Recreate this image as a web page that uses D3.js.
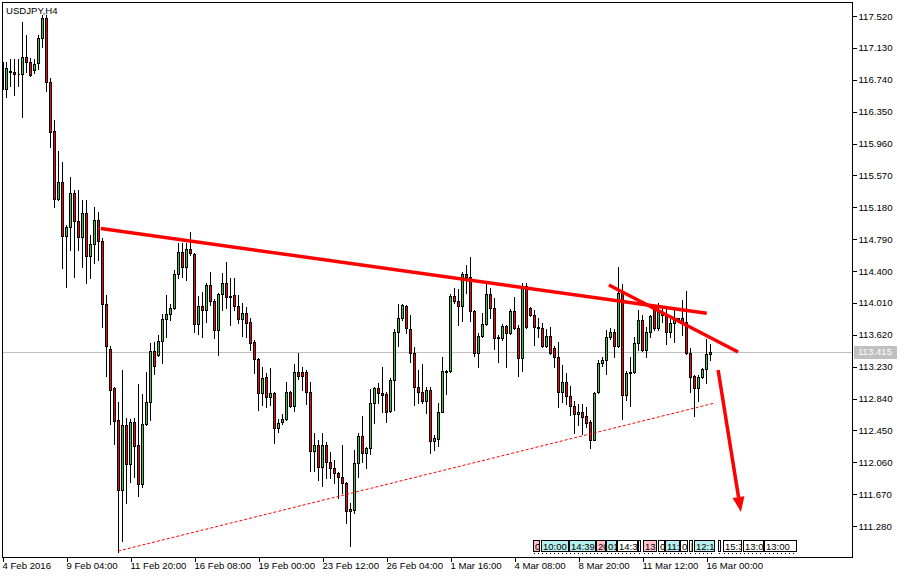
<!DOCTYPE html>
<html><head><meta charset="utf-8">
<script src="https://cdn.jsdelivr.net/npm/d3@7/dist/d3.min.js"></script>
<style>
body{margin:0;background:#fff;}
svg{display:block;font-family:"Liberation Sans",Arial,sans-serif;}
</style></head><body>
<svg id="c" width="905" height="578"></svg>
<script>
// ---------------- DATA ----------------
const symbolLabel = "USDJPY,H4";
const openP = [116.627,116.627,116.835,116.835,116.811,116.811,117.019,116.957,116.860,116.945,
117.251,117.496,116.713,116.113,115.281,115.489,114.828,114.939,115.355,115.012,
114.816,115.110,114.584,114.731,115.024,114.767,113.996,113.446,112.969,112.577,
111.721,112.516,112.039,112.553,112.271,111.794,112.528,112.797,113.421,113.372,
113.544,113.813,113.874,113.948,114.363,114.633,114.449,114.669,114.608,113.752,
113.972,113.923,114.229,114.033,113.678,114.119,114.253,114.094,114.107,113.972,
113.813,113.886,113.776,113.532,113.323,112.907,113.103,112.858,112.907,112.479,
112.553,112.589,112.920,112.748,113.164,113.164,113.164,112.920,112.198,112.271,
112.002,112.271,112.063,111.990,111.929,111.880,111.806,111.464,111.476,112.051,
112.381,112.173,112.235,112.785,112.969,112.907,112.895,112.687,113.067,113.654,
113.825,113.972,113.691,113.397,112.981,112.920,112.810,112.944,112.320,112.345,
112.675,113.164,113.177,114.094,114.033,113.972,114.363,114.327,113.911,113.397,
113.605,113.752,114.119,113.948,113.593,113.580,113.727,113.642,113.911,113.703,
113.336,114.217,113.948,113.862,113.715,113.703,113.483,113.605,113.458,113.348,
112.920,113.042,112.871,112.748,112.651,112.675,112.626,112.553,112.332,112.920,
113.275,113.311,113.593,113.654,113.483,114.131,112.883,113.152,113.164,113.519,
113.801,113.434,113.654,113.948,113.703,113.899,113.862,113.654,113.764,113.801,
113.825,113.776,113.397,113.116,112.969,113.103,113.201,113.385];
const highP = [117.006,116.957,116.994,116.994,116.994,117.447,117.288,117.006,116.994,117.288,
117.532,117.532,116.762,116.248,115.868,115.734,114.963,115.550,115.391,115.391,
115.269,115.269,114.841,115.183,115.122,114.804,114.107,113.483,112.981,112.797,
113.189,112.602,112.589,112.602,113.018,112.895,113.164,113.519,113.532,113.617,
113.874,114.107,113.996,114.412,114.743,114.743,114.743,114.877,114.620,114.094,
114.143,114.253,114.388,114.058,114.131,114.376,114.510,114.315,114.315,114.107,
114.009,113.960,113.825,113.556,113.336,113.226,113.152,113.213,112.920,112.589,
112.651,113.042,112.932,113.262,113.397,113.226,113.189,113.042,112.418,112.332,
112.418,112.308,112.186,112.088,111.941,112.271,111.819,111.562,112.210,112.418,
112.626,112.247,112.956,112.981,113.030,113.226,112.920,113.091,113.691,113.996,
113.996,113.984,113.862,113.470,113.189,113.262,112.981,112.981,112.393,112.785,
113.348,113.185,114.119,114.192,114.180,114.388,114.474,114.572,113.920,113.642,
113.886,114.253,114.192,114.070,113.620,113.752,113.739,113.935,114.082,113.739,
114.253,114.253,113.960,113.923,113.825,113.764,113.691,113.715,113.483,113.532,
113.250,113.152,112.993,112.810,112.773,112.773,112.736,112.577,112.925,113.311,
113.348,113.678,113.703,113.691,114.449,114.241,113.177,113.348,113.593,113.923,
113.862,113.715,113.862,113.984,114.009,113.960,113.960,113.813,113.923,113.830,
114.045,114.155,113.458,113.128,113.128,113.213,113.568,113.507];
const lowP = [116.529,116.529,116.664,116.554,116.664,116.284,116.835,116.786,116.823,116.872,
117.141,116.603,115.917,115.183,115.269,114.437,114.204,114.657,114.327,114.657,
114.449,114.253,114.315,114.498,114.535,113.715,113.116,112.528,112.284,110.962,
111.097,111.562,111.819,111.880,111.647,111.758,112.516,112.577,113.140,113.360,
113.275,113.593,113.801,113.940,114.315,114.327,114.290,114.600,113.654,113.629,
113.593,113.776,113.984,113.580,113.372,113.923,113.948,113.739,113.923,113.764,
113.605,113.593,113.434,113.152,112.699,112.761,112.736,112.761,112.296,112.430,
112.528,112.577,112.740,112.687,113.079,112.944,112.773,111.953,111.953,111.843,
111.770,111.867,111.867,111.806,111.623,111.684,111.317,111.036,111.439,111.880,
112.063,111.990,112.161,112.540,112.785,112.675,112.553,112.680,112.699,113.483,
113.801,113.642,113.287,112.761,112.785,112.785,112.663,112.173,112.210,112.259,
112.670,112.895,113.170,114.009,113.739,113.788,114.131,113.788,113.360,113.226,
113.593,113.739,113.825,113.446,113.287,113.556,113.226,113.629,113.691,113.116,
113.177,113.703,113.850,113.495,113.593,113.470,113.470,113.385,113.226,112.736,
112.797,112.773,112.638,112.418,112.516,112.406,112.491,112.235,112.330,112.907,
113.238,113.140,113.568,113.348,113.470,112.589,112.822,112.748,113.152,113.434,
113.421,113.348,113.593,113.678,113.678,113.776,113.507,113.593,113.532,113.776,
113.617,113.390,112.920,112.626,112.810,113.091,113.030,113.311];
const closeP = [116.957,116.884,116.847,116.811,116.815,117.019,116.957,116.798,116.933,117.251,
117.496,116.713,116.101,115.281,115.489,114.828,114.939,115.355,115.012,114.816,
115.110,114.584,114.731,115.024,114.767,113.996,113.483,112.944,112.565,111.721,
112.516,112.039,112.553,112.259,111.794,112.528,112.797,113.421,113.238,113.544,
113.813,113.874,113.948,114.363,114.633,114.449,114.669,114.615,113.752,113.972,
113.923,114.229,114.033,113.678,114.119,114.253,114.082,114.082,113.972,113.813,
113.886,113.764,113.519,113.323,112.907,113.091,112.858,112.907,112.479,112.540,
112.589,112.920,112.748,113.164,113.116,113.116,112.920,112.198,112.271,112.002,
112.271,112.063,111.990,111.929,111.880,111.806,111.464,111.488,112.051,112.381,
112.173,112.235,112.785,112.969,112.907,112.883,112.675,113.067,113.654,113.825,
113.984,113.703,113.397,112.981,112.920,112.810,112.944,112.320,112.357,112.675,
113.177,113.175,114.094,114.033,113.972,114.363,114.327,113.911,113.397,113.605,
113.752,114.119,113.948,113.580,113.580,113.727,113.642,113.911,113.703,113.336,
114.217,113.715,113.862,113.715,113.703,113.483,113.605,113.397,113.348,112.920,
113.042,112.871,112.748,112.651,112.675,112.614,112.540,112.332,112.908,113.275,
113.311,113.593,113.654,113.483,114.131,112.883,113.152,113.164,113.519,113.801,
113.434,113.654,113.850,113.703,113.899,113.862,113.654,113.764,113.801,113.825,
113.776,113.397,113.103,112.969,113.103,113.201,113.385,113.415];

const timeTickBars = [0,16,32,48,64,80,96,112,128,144,160,176];
const timeTickLabels = ["4 Feb 2016","9 Feb 04:00","11 Feb 20:00","16 Feb 08:00","19 Feb 00:00",
  "23 Feb 12:00","26 Feb 04:00","1 Mar 16:00","4 Mar 08:00","8 Mar 20:00","11 Mar 12:00","16 Mar 00:00"];
const priceTicks = [117.520,117.130,116.740,116.350,115.960,115.570,115.180,114.790,114.400,
  114.010,113.620,113.230,112.840,112.450,112.060,111.670,111.280];
const bidPrice = 113.415;

// drawn objects: [bar position, price]
const trendTop = [[24.6,114.920],[176.05,113.883]];
const trendSteep = [[151.6,114.229],[183.9,113.409]];
const trendSupport = [[28.9,110.974],[178.1,112.785]];
const arrowDown = [[178.9,113.189],[184.6,111.452]];

// calendar event markers (bar span, text, kind)
const eventText = ["0","10:00","14:39","20","01","14:3","[","13:","0","11:","0","[","12:1:","[","15:3","13:0","13:00"];
const eventKind = ["p","c","c","p","c","w","w","p","w","c","w","w","c","w","w","w","w"];
const eventFrom = [132.55,134.6,141.6,148.4,150.9,153.6,158.9,160.1,163.9,165.6,169.4,171.6,172.9,178.9,180.1,185.1,190.4];
const eventTo   = [134.4,141.6,148.4,150.9,153.6,158.9,159.6,163.6,165.6,169.4,171.4,172.6,178.1,179.6,184.9,190.4,198.6];

// ---------------- DRAW ----------------
const svg = d3.select("#c");
const GREEN = "#32cd32", RED = "#ff0000";
const x = d3.scaleLinear().domain([0,212.5]).range([2.5,852.5]);
const y = d3.scaleLinear().domain([117.52,111.28]).range([16,526]);

svg.append("rect").attr("width",905).attr("height",578).attr("fill","#fff");
svg.append("defs").append("clipPath").attr("id","plotClip")
  .append("rect").attr("x",3).attr("y",3).attr("width",849).attr("height",554);

const plotG = svg.append("g").attr("clip-path","url(#plotClip)");

// bid line
plotG.append("line").attr("x1",2).attr("x2",852)
  .attr("y1",Math.round(y(bidPrice))+0.5).attr("y2",Math.round(y(bidPrice))+0.5)
  .attr("stroke","#c0c0c0").attr("shape-rendering","crispEdges");

// candles
const idx = d3.range(openP.length);
const cg = plotG.append("g").attr("shape-rendering","crispEdges");
cg.selectAll("line").data(idx).join("line")
  .attr("x1",i=>x(i)).attr("x2",i=>x(i))
  .attr("y1",i=>Math.round(y(highP[i])))
  .attr("y2",i=>Math.round(y(lowP[i]))+1)
  .attr("stroke","#000");
cg.selectAll("path").data(idx).join("path")
  .attr("d",i=>{
    const xc = x(i);
    const t = Math.round(y(Math.max(openP[i],closeP[i])))+0.5;
    const b = Math.round(y(Math.min(openP[i],closeP[i])))+0.5;
    return `M${xc-1},${t}H${xc+1}V${b}H${xc-1}Z`;
  })
  .attr("fill",i=>closeP[i]>=openP[i]?GREEN:RED)
  .attr("stroke","#000");

// trend lines
const ptX = p=>x(p[0]), ptY = p=>y(p[1]);
const lineGen = d3.line().x(ptX).y(ptY);
plotG.append("path").attr("d",lineGen(trendTop)).attr("stroke",RED).attr("stroke-width",3.5).attr("fill","none");
plotG.append("path").attr("d",lineGen(trendSteep)).attr("stroke",RED).attr("stroke-width",3.5).attr("fill","none");
plotG.append("path").attr("d",lineGen(trendSupport)).attr("stroke",RED).attr("stroke-width",1)
  .attr("stroke-dasharray","3,2").attr("fill","none");

// arrow
{
  const x0=ptX(arrowDown[0]), y0=ptY(arrowDown[0]), x1=ptX(arrowDown[1]), y1=ptY(arrowDown[1]);
  const dx=x1-x0, dy=y1-y0, L=Math.hypot(dx,dy), ux=dx/L, uy=dy/L;
  const hl=15, hw=6;
  const bx=x1-ux*hl, by=y1-uy*hl;
  plotG.append("path").attr("d",`M${x0},${y0}L${bx},${by}`).attr("stroke",RED).attr("stroke-width",3.5).attr("fill","none");
  plotG.append("path").attr("d",`M${bx+uy*hw},${by-ux*hw}L${x1},${y1}L${bx-uy*hw},${by+ux*hw}Z`).attr("fill",RED);
}

// event markers
const kindFill = {p:"#ffc0cb", c:"#b4eeee", w:"#ffffff"};
const evG = plotG.append("g");
eventText.forEach((t,i)=>{
  const xa = Math.round(x(eventFrom[i])), xb = Math.round(x(eventTo[i]));
  const box = evG.append("svg").attr("x",xa).attr("y",540).attr("width",Math.max(1,xb-xa)).attr("height",12);
  box.append("rect").attr("x",0.5).attr("y",0.5).attr("width",Math.max(0,xb-xa-1)).attr("height",11)
    .attr("fill",kindFill[eventKind[i]]).attr("stroke","#000").attr("shape-rendering","crispEdges");
  box.append("text").attr("x",2).attr("y",9.5).attr("font-size","9.5px").attr("fill","#000").text(t);
  evG.append("line").attr("x1",xa+1).attr("x2",xb-1).attr("y1",553.5).attr("y2",553.5)
    .attr("stroke","#000").attr("stroke-dasharray","1,3").attr("shape-rendering","crispEdges");
});

// symbol label
svg.append("text").attr("x",6).attr("y",14).attr("font-size","9.6px").attr("fill","#000").text(symbolLabel);

// frame
svg.append("rect").attr("x",2.5).attr("y",2.5).attr("width",850).attr("height",555)
  .attr("fill","none").attr("stroke","#000").attr("shape-rendering","crispEdges");

// right price axis
const yAxis = d3.axisRight(y).tickValues(priceTicks).tickSize(4).tickPadding(2).tickFormat(d3.format(".3f"));
const ya = svg.append("g").attr("transform","translate(852.5,0)").call(yAxis);
ya.select(".domain").remove();
ya.selectAll("line").attr("stroke","#000").attr("shape-rendering","crispEdges");
ya.selectAll("text").attr("font-size","9.6px").attr("fill","#000").attr("font-family","Liberation Sans, Arial, sans-serif");

// bid label
{
  const yb = y(bidPrice);
  svg.append("rect").attr("x",854).attr("y",Math.round(yb)-6).attr("width",43).attr("height",13).attr("fill","#c0c0c0");
  svg.append("text").attr("x",858).attr("y",yb).attr("dy","0.35em").attr("font-size","9.6px").attr("fill","#fff")
    .text(d3.format(".3f")(bidPrice));
}

// bottom time axis
const xAxis = d3.axisBottom(x).tickValues(timeTickBars).tickSize(4).tickFormat((d,i)=>timeTickLabels[i]);
const xa = svg.append("g").attr("transform","translate(0,557.5)").call(xAxis);
xa.select(".domain").remove();
xa.selectAll("line").attr("stroke","#000").attr("shape-rendering","crispEdges");
xa.selectAll("text").attr("text-anchor","start").attr("x",-0.5).attr("y",5).attr("dy","0.71em")
  .attr("font-size","9.6px").attr("fill","#000").attr("font-family","Liberation Sans, Arial, sans-serif");
</script>
</body></html>
